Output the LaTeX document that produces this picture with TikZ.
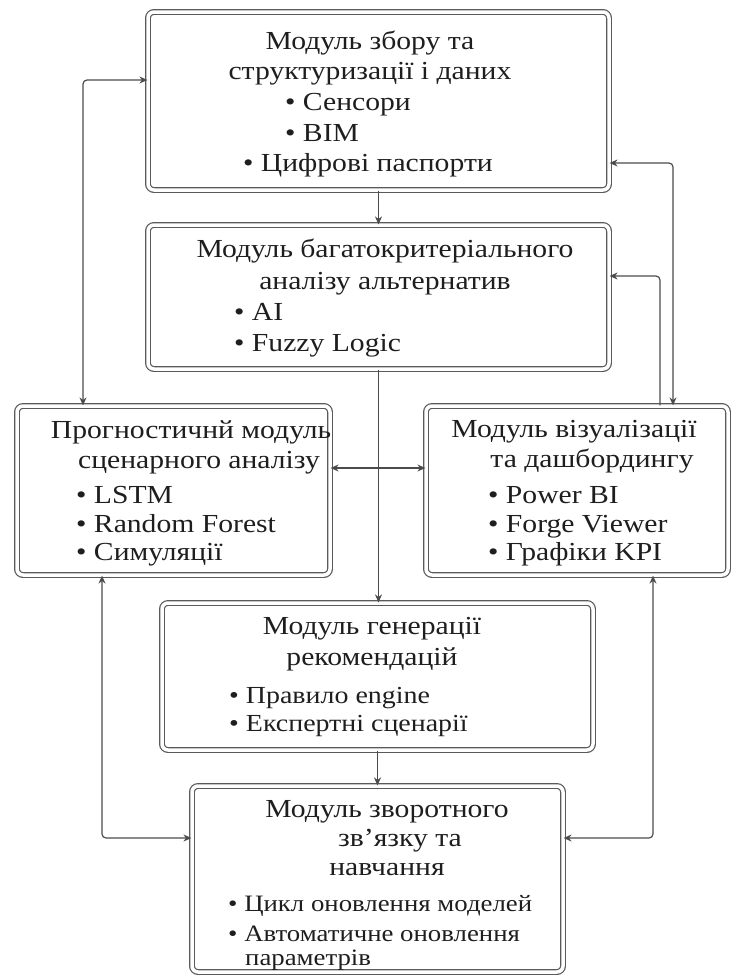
\documentclass[tikz,border=0pt]{standalone}
\usepackage{fontspec}
\setmainfont{Liberation Serif}[FakeStretch=1.14]
\usepackage{tikz}
\usetikzlibrary{arrows.meta,positioning}
\definecolor{boxgray}{RGB}{90,90,90}
\definecolor{linegray}{RGB}{75,75,75}
\definecolor{textdark}{RGB}{30,30,30}
\tikzset{
  mbox/.style={rectangle,rounded corners=6pt,draw=boxgray,line width=1.2pt,
               double=white,double distance=3.5pt,inner sep=0pt},
  ttl/.style={align=center,anchor=north,inner sep=0pt,text=textdark,
              font=\fontsize{26}{#1}\selectfont},
  ttl/.default=30,
  blt/.style={align=left,anchor=north west,inner sep=0pt,text=textdark,
              font=\fontsize{26}{#1}\selectfont},
  blt/.default=28.5,
  arr/.style={-{Stealth[length=8pt,width=7pt]},line width=1.2pt,color=linegray,rounded corners=4pt},
  arrs/.style={{Stealth[length=8pt,width=7pt]}-{Stealth[length=8pt,width=7pt]},line width=1.2pt,color=linegray,rounded corners=4pt},
}

\begin{document}
\begin{tikzpicture}[x=1pt,y=-1pt]
    \useasboundingbox (0,0) rectangle (732,978);
    \node[mbox,minimum width=461pt,minimum height=178pt] (m1) at (378.5,101) {};
    \node[mbox,minimum width=461pt,minimum height=144pt] (m2) at (378.5,297) {};
    \node[mbox,minimum width=313pt,minimum height=169pt] (m3) at (173.5,490.5) {};
    \node[mbox,minimum width=302pt,minimum height=169pt] (m4) at (577,490.5) {};
    \node[mbox,minimum width=431pt,minimum height=147pt] (m5) at (377.5,676.5) {};
    \node[mbox,minimum width=371pt,minimum height=186pt] (m6) at (377.5,879) {};

    \node[ttl] (t1) at (370,30.5) {Модуль збору та\\структуризації і даних};
    \node[blt=30.5] (l1) at (243,93.5) {\hspace*{42pt}• Сенсори\\\hspace*{42pt}• BIM\\• Цифрові паспорти};
    \node[ttl=32] (t2) at (385,238.5) {Модуль багатокритеріального\\аналізу альтернатив};
    \node[blt=31] (l2) at (234,303.5) {• AI\\• Fuzzy Logic};
    \node[ttl] (t3) at (191,420.5) {Прогностичнй модуль\\\hspace*{16pt}сценарного аналізу};
    \node[blt] (l3) at (76,486.5) {• LSTM\\• Random Forest\\• Симуляції};
    \node[ttl] (t4) at (574,420.5) {Модуль візуалізації\\\hspace*{36pt}та дашбордингу};
    \node[blt] (l4) at (488,486.5) {• Power BI\\• Forge Viewer\\• Графіки KPI};
    \node[ttl=31] (t5) at (372,617.5) {Модуль генерації\\рекомендацій};
    \node[blt=28,font=\fontsize{24.5}{28}\selectfont] (l5) at (229,687) {• Правило engine\\• Експертні сценарії};
    \node[ttl=29] (t6) at (387,800.5) {Модуль зворотного\\\hspace*{26pt}зв’язку та\\навчання};
    \node[blt,font=\fontsize{23.5}{30}\selectfont] (l6) at (228,895) {• Цикл оновлення моделей\\• Автоматичне оновлення\\[-6pt]\hspace*{17pt}параметрів};

    \draw[arr] (m1) -- (m2);
    \draw[arr] (m2.south) -- (m2.south |- m5.north);
    \draw[arr] (m5.south) -- (m5.south |- m6.north);
    \draw[arrs] ([yshift=22.5pt]m3.east) -- ([yshift=22.5pt]m4.west);
    \draw[arrs] ([xshift=-90.5pt]m3.north) |- ([yshift=21pt]m1.west);
    \draw[arrs] ([xshift=96pt]m4.north) |- ([yshift=-62pt]m1.east);
    \draw[arr] ([xshift=83pt]m4.north) |- ([yshift=21pt]m2.east);
    \draw[arrs] ([xshift=-71.5pt]m3.south) |- ([yshift=41pt]m6.west);
    \draw[arrs] ([xshift=76pt]m4.south) |- ([yshift=41pt]m6.east);
  \end{tikzpicture}
\end{document}
